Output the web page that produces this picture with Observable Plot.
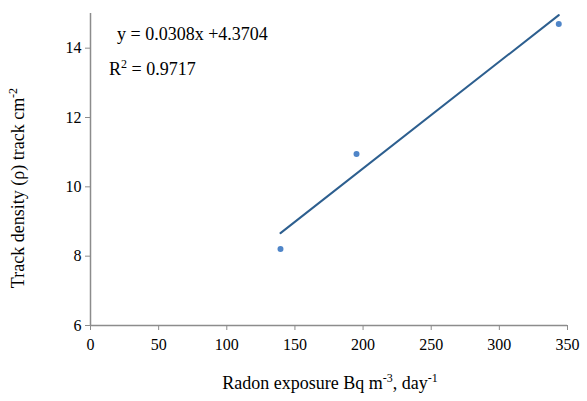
<!DOCTYPE html>
<html><head><meta charset="utf-8">
<script src="https://cdn.jsdelivr.net/npm/d3@7"></script>
<script src="https://cdn.jsdelivr.net/npm/@observablehq/plot@0.6"></script>
<style>body{margin:0;background:#fff} svg text, svg tspan { font-family: 'Liberation Serif', 'Times New Roman', serif !important; font-variant: normal !important; }</style>
</head><body><div id="chart"></div>
<script>
const exposure = [139.4, 195.2, 343.6];
const density = [8.21, 10.95, 14.70];
const slope = 0.0308, intercept = 4.3704, r2 = "0.9717";
const xTicks = [0, 50, 100, 150, 200, 250, 300, 350];
const yTicks = [6, 8, 10, 12, 14];

const pts = exposure.map((x, i) => ({x, y: density[i]}));
const xr = d3.extent(exposure);
const fit = xr.map(x => ({x, y: intercept + slope * x}));

const font = "'Liberation Serif', 'Times New Roman', serif";
const plot = Plot.plot({
  width: 587, height: 401,
  marginLeft: 90, marginRight: 20, marginTop: 13, marginBottom: 76,
  style: {fontFamily: font, fontSize: "16px", color: "#000", background: "#fff"},
  x: {domain: [0, 350], label: null},
  y: {domain: [6, 15], label: null},
  marks: [
    Plot.ruleY([6], {stroke: "#8c8c8c", strokeWidth: 1.5}),
    Plot.ruleX([0], {stroke: "#8c8c8c", strokeWidth: 1.5}),
    Plot.axisX({ticks: xTicks, tickSize: 5, stroke: "#8c8c8c", fill: "#000", fontFamily: font, fontSize: 16, tickPadding: 8, label: null}),
    Plot.axisY({ticks: yTicks, tickSize: 5, stroke: "#8c8c8c", fill: "#000", fontFamily: font, fontSize: 16, tickPadding: 4, label: null}),
    Plot.line(fit, {x: "x", y: "y", stroke: "#2d5f8f", strokeWidth: 2}),
    Plot.dot(pts, {x: "x", y: "y", r: 3, fill: "#4f85c8", stroke: "none"})
  ]
});
document.getElementById("chart").appendChild(plot);

const svg = d3.select(plot);
const t = svg.append("g").attr("fill", "#000").attr("text-anchor", "start");
// equation
t.append("text").attr("x", 117).attr("y", 40).attr("font-size", 18)
  .text(`y = ${slope}x +${intercept}`);
const r = t.append("text").attr("x", 109).attr("y", 75).attr("font-size", 18);
r.append("tspan").text("R");
r.append("tspan").attr("dy", -7).attr("font-size", 12).text("2");
r.append("tspan").attr("dy", 7).text(" = " + r2);
// x title
const xt = t.append("text").attr("x", 330).attr("y", 389).attr("text-anchor", "middle").attr("font-size", 18);
xt.append("tspan").text("Radon exposure Bq m");
xt.append("tspan").attr("dy", -7).attr("font-size", 12).text("-3");
xt.append("tspan").attr("dy", 7).text(", day");
xt.append("tspan").attr("dy", -7).attr("font-size", 12).text("-1");
// y title
const yt = t.append("text").attr("transform", "translate(24,188) rotate(-90)").attr("text-anchor", "middle").attr("font-size", 18);
yt.append("tspan").text("Track density (\u03C1) track cm");
yt.append("tspan").attr("dy", -7).attr("font-size", 12).text("-2");
</script>
</body></html>
